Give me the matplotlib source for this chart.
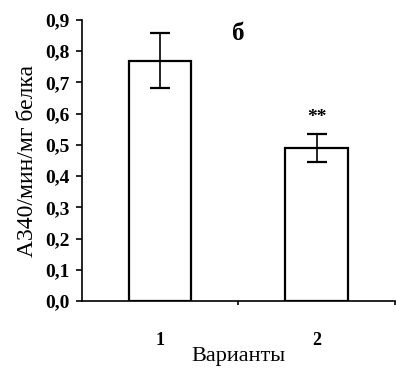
import matplotlib.pyplot as plt
from matplotlib.ticker import FixedLocator, FuncFormatter

plt.rcParams["font.family"] = ["Liberation Serif", "DejaVu Serif"]

variants = ["1", "2"]
activity = [0.77, 0.49]
activity_err = [0.087, 0.045]
y_ticks = [0.0, 0.1, 0.2, 0.3, 0.4, 0.5, 0.6, 0.7, 0.8, 0.9]


def main() -> None:
    fig = plt.figure(figsize=(3.96, 3.69), dpi=100)
    ax = fig.add_axes([0.207, 0.184, 0.79, 0.762])

    x = list(range(len(variants)))
    ax.bar(x, activity, width=0.4, color="white", edgecolor="black",
           linewidth=1.6, zorder=2)
    ax.errorbar(x, activity, yerr=activity_err, fmt="none", ecolor="black",
                elinewidth=1.2, capsize=7, capthick=1.6, zorder=3)

    # significance mark over the second variant
    ax.text(x[1], activity[1] + activity_err[1] + 0.025, "**",
            ha="center", va="bottom", fontsize=14, fontweight="bold")
    ax.text(0.5, 0.855, "б", ha="center", va="center", fontsize=18,
            fontweight="bold")

    ax.set_xlim(-0.5, 1.5)
    ax.set_ylim(0, 0.9)
    ax.set_xticks(x)
    ax.set_xticklabels(variants, fontsize=13, fontweight="bold")
    ax.xaxis.set_minor_locator(FixedLocator([0.5, 1.5]))
    ax.tick_params(axis="x", which="major", length=0, pad=22)
    ax.tick_params(axis="x", which="minor", length=3, width=1.2)
    ax.set_yticks(y_ticks)
    ax.yaxis.set_major_formatter(
        FuncFormatter(lambda v, _: f"{v:.1f}".replace(".", ",")))
    ax.tick_params(axis="y", length=4, width=1.2, labelsize=14, pad=5)
    for lbl in ax.get_yticklabels():
        lbl.set_fontweight("bold")

    ax.set_xlabel("Варианты", fontsize=16)
    ax.xaxis.set_label_coords(0.5, -0.162)
    ax.set_ylabel("А340/мин/мг белка", fontsize=17, labelpad=5)

    ax.spines["top"].set_visible(False)
    ax.spines["right"].set_visible(False)
    ax.spines["left"].set_linewidth(1.2)
    ax.spines["bottom"].set_linewidth(1.2)

    fig.savefig("out.png", dpi=100)


if __name__ == "__main__":
    main()
